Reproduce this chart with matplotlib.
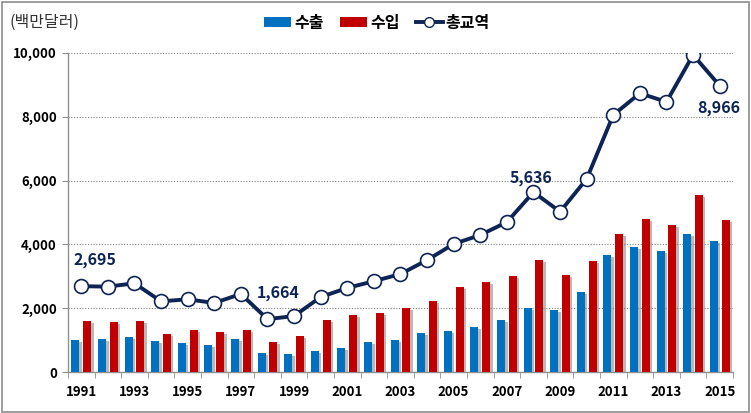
import matplotlib
matplotlib.use("Agg")
import matplotlib.pyplot as plt
import matplotlib.patheffects as pe
from matplotlib.lines import Line2D
from matplotlib.patches import Patch, Rectangle
import numpy as np

plt.rcParams['font.family'] = ['Noto Sans CJK KR', 'DejaVu Sans']

years = list(range(1991, 2016))
exports = [1010, 1040, 1100, 980, 920, 850, 1040, 600, 570, 670, 760, 950, 1010,
           1230, 1290, 1420, 1640, 2010, 1950, 2510, 3670, 3920, 3800, 4330, 4110]
imports = [1605, 1575, 1605, 1200, 1325, 1260, 1325, 950, 1135, 1635, 1790, 1855, 2010,
           2230, 2670, 2825, 3010, 3510, 3040, 3480, 4330, 4800, 4610, 5550, 4770]
total = [2695, 2680, 2785, 2220, 2285, 2170, 2450, 1664, 1760, 2355, 2640, 2850, 3075,
         3510, 4015, 4295, 4700, 5636, 5025, 6050, 8050, 8730, 8460, 9930, 8966]
labeled = {1991: "2,695", 1998: "1,664", 2008: "5,636", 2015: "8,966"}
yticks = [0, 2000, 4000, 6000, 8000, 10000]
series_names = ["수출", "수입", "총교역"]
unit_label = "(백만달러)"

c_exp = "#0070C0"
c_imp = "#C00000"
c_line = "#0E2454"

fig = plt.figure(figsize=(7.51, 4.13), dpi=100)
ax = fig.add_axes([0.0905, 0.0985, 0.8855, 0.774])

x = np.arange(len(years))
bw = 0.30
shadow = [pe.SimplePatchShadow(offset=(1.8, -1.2), shadow_rgbFace="#808080", alpha=0.55), pe.Normal()]
ax.bar(x - 0.22, exports, width=bw, color=c_exp, zorder=3, path_effects=shadow)
ax.bar(x + 0.22, imports, width=bw, color=c_imp, zorder=3, path_effects=shadow)
ax.plot(x, total, color=c_line, lw=2.8, marker='o', ms=10, mfc='white',
        mec=c_line, mew=1.2, zorder=5)

offsets = {1991: (0.53, 3500), 1998: (0.4, 2490),
           2008: (-0.1, 6080), 2015: (-0.05, 8270)}
for yr, txt in labeled.items():
    i = years.index(yr)
    dx, yy = offsets[yr]
    ax.text(i + dx, yy, txt, color=c_line, fontsize=11.5, fontweight='bold',
            ha='center', va='center', zorder=6)

ax.set_xlim(-0.5, len(years) - 0.5)
ax.set_ylim(0, 10000)
ax.set_yticks(yticks)
ax.set_yticklabels([f"{v:,}" for v in yticks], fontsize=9.5, fontweight='bold')
ax.yaxis.grid(True, linestyle=(0, (1, 1.5)), color="#808080", lw=0.8, zorder=0)
ax.set_axisbelow(True)

ax.set_xticks(x[::2])
ax.set_xticklabels([str(y) for y in years[::2]], fontsize=9.5, fontweight='bold')
ax.set_xticks(np.arange(-0.5, len(years), 1), minor=True)
ax.tick_params(axis='x', which='major', length=0, pad=9)
ax.tick_params(axis='x', which='minor', length=4, color="#909090", direction='out')
ax.tick_params(axis='y', length=4, color="#909090", direction='out', pad=4)

for s in ['top', 'right']:
    ax.spines[s].set_visible(False)
for s in ['left', 'bottom']:
    ax.spines[s].set_color("#909090")
    ax.spines[s].set_linewidth(1.0)

handles = [Patch(facecolor=c_exp, edgecolor='none'),
           Patch(facecolor=c_imp, edgecolor='none'),
           Line2D([0], [0], color=c_line, lw=2.8, marker='o', ms=7, mfc='white', mec=c_line)]
fig.legend(handles, series_names, loc='center', bbox_to_anchor=(0.502, 0.945), ncol=3,
           frameon=False, fontsize=11.5, handlelength=1.7, handleheight=0.55,
           handletextpad=0.2, columnspacing=1.0, prop={'weight': 'bold', 'size': 11.5})

fig.text(0.012, 0.947, unit_label, fontsize=11.5, color="#333333", va='center', ha='left')

fig.add_artist(Rectangle((0.002, 0.003), 0.995, 0.993, transform=fig.transFigure,
                         fill=False, edgecolor="#8c8c8c", lw=1.2))

fig.savefig("out.png", dpi=100)
